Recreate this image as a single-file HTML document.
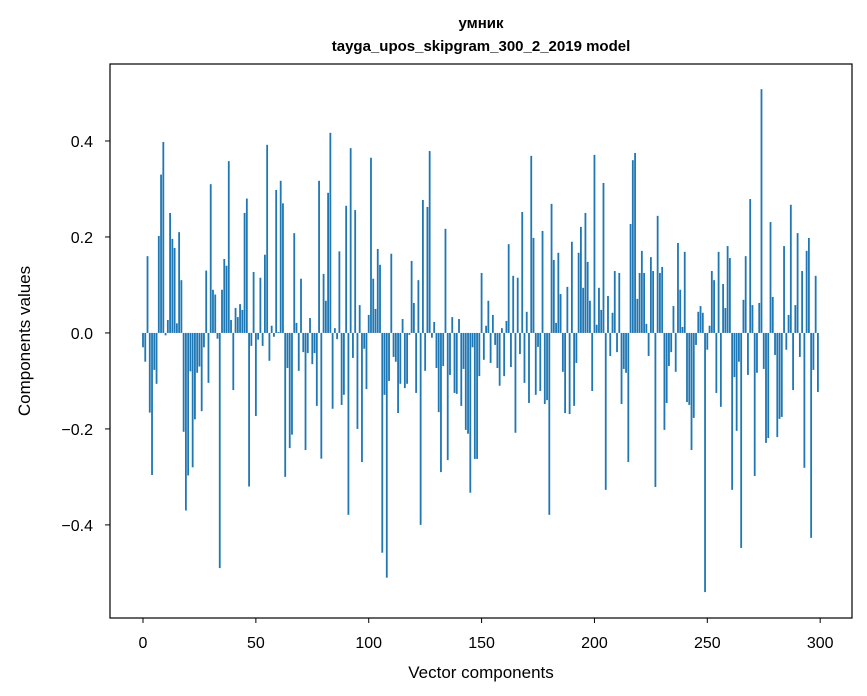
<!DOCTYPE html>
<html><head><meta charset="utf-8">
<style>
html,body{margin:0;padding:0;background:#fff;}
svg{display:block;}
text{font-family:"Liberation Sans","DejaVu Sans",sans-serif;fill:#000;}
</style></head>
<body>
<svg id="chart" width="867" height="696" viewBox="0 0 867 696">
<text x="481" y="28" text-anchor="middle" font-size="15" font-weight="bold">умник</text>
<text x="481" y="51" text-anchor="middle" font-size="15" font-weight="bold">tayga_upos_skipgram_300_2_2019 model</text>
<g id="bars"></g>
<g id="axes"></g>
<text x="481" y="678" text-anchor="middle" font-size="17">Vector components</text>
<text transform="translate(30,341) rotate(-90)" text-anchor="middle" font-size="17">Components values</text>
</svg>
<script>
const xTicks = [0,50,100,150,200,250,300];
const yTicks = [-0.4,-0.2,0,0.2,0.4];
const yTickLabels = ["\u22120.4","\u22120.2","0.0","0.2","0.4"];
const values = [
-0.03,-0.06,0.16,-0.166,-0.296,-0.077,-0.106,0.202,0.33,0.398,
-0.005,0.027,0.25,0.196,0.177,0.02,0.21,0.11,-0.206,-0.37,
-0.297,-0.08,-0.28,-0.18,-0.083,-0.07,-0.163,-0.03,0.13,-0.104,
0.31,0.09,0.08,-0.012,-0.49,0.09,0.154,0.14,0.358,0.027,
-0.119,0.052,0.033,0.06,0.048,0.25,0.28,-0.32,-0.027,0.127,
-0.173,-0.014,0.115,-0.027,0.163,0.392,-0.058,0.015,-0.008,0.298,
0.002,0.317,0.27,-0.30,-0.073,-0.24,-0.212,0.208,0.021,-0.079,
0.113,-0.04,-0.244,-0.042,0.031,-0.065,-0.042,-0.152,0.317,-0.262,
0.123,0.067,0.292,0.417,-0.158,0.01,-0.013,0.17,-0.15,-0.129,
0.265,-0.379,0.385,-0.052,0.256,-0.2,0.058,-0.269,-0.033,-0.117,
0.0375,0.365,0.113,0.05,0.175,0.142,-0.458,-0.129,-0.51,-0.1,
0.165,-0.05,-0.06,-0.167,-0.106,0.029,-0.115,-0.106,-0.004,0.15,
0.0625,-0.125,0.11,-0.4,0.277,-0.079,0.2625,0.379,-0.01,0.023,
-0.073,-0.165,-0.29,-0.069,0.217,-0.265,-0.0875,0.033,-0.125,-0.127,
0.029,-0.152,-0.075,-0.202,-0.21,-0.333,-0.03,-0.2625,-0.2625,-0.09,
0.125,-0.056,0.015,0.067,-0.0625,0.0375,-0.025,-0.073,-0.11,0.01,
-0.09,0.025,0.185,-0.071,0.119,-0.208,0.115,-0.044,0.252,-0.104,
0.044,-0.146,0.369,0.198,-0.129,-0.029,-0.121,0.2125,-0.148,-0.14,
-0.379,0.269,0.152,0.021,0.167,0.081,-0.081,-0.167,0.096,-0.169,
0.19,-0.152,-0.0625,0.167,0.221,0.094,0.25,0.148,0.067,-0.121,
0.371,0.017,0.094,0.048,0.3125,-0.327,0.077,-0.048,0.042,0.129,
-0.04,0.125,-0.148,-0.075,-0.083,-0.269,0.227,0.36,0.375,0.071,
0.125,0.171,0.125,0.019,-0.048,0.158,0.129,-0.321,0.244,0.125,
0.1375,-0.202,-0.146,-0.069,-0.04,0.056,-0.081,0.1875,0.09,0.0125,
0.169,-0.144,-0.15,-0.244,-0.177,-0.025,0.044,0.056,0.042,-0.54,
-0.035,0.015,0.129,0.11,-0.125,0.169,-0.154,0.102,0.052,0.181,
0.156,-0.327,-0.092,-0.204,-0.06,-0.448,0.069,0.16,-0.0875,0.279,
0.058,-0.298,-0.083,0.0625,0.508,-0.075,-0.229,-0.219,0.231,0.075,
-0.046,-0.217,-0.179,-0.175,0.181,-0.035,0.0375,0.267,-0.119,0.058,
0.208,-0.05,0.129,-0.281,0.171,0.198,-0.427,-0.077,0.119,-0.123
];
const NS = "http://www.w3.org/2000/svg";
const L = 110, R = 852, T = 64, B = 618;
const xMin = -14.62, xMax = 314.1, yMin = -0.594, yMax = 0.5604;
function xs(v){ return L + (v - xMin) / (xMax - xMin) * (R - L); }
function ys(v){ return T + (yMax - v) / (yMax - yMin) * (B - T); }
const barsG = document.getElementById('bars');
values.forEach(function(v, i){
  const r = document.createElementNS(NS, 'rect');
  
  
  const x0 = xs(i - 0.4), x1 = xs(i + 0.4);
  const y0 = ys(Math.max(v, 0)), y1 = ys(Math.min(v, 0));
  r.setAttribute('x', x0);
  r.setAttribute('width', x1 - x0);
  r.setAttribute('y', y0);
  r.setAttribute('height', Math.max(y1 - y0, 0.01));
  r.setAttribute('fill', '#1f77b4');
  barsG.appendChild(r);
});
const axesG = document.getElementById('axes');
const frame = document.createElementNS(NS, 'rect');


frame.setAttribute('x', L); frame.setAttribute('y', T);
frame.setAttribute('width', R - L); frame.setAttribute('height', B - T);
frame.setAttribute('fill', 'none'); frame.setAttribute('stroke', '#000'); frame.setAttribute('stroke-width', '1.2');
axesG.appendChild(frame);
xTicks.forEach(function(t){
  const ln = document.createElementNS(NS, 'line');
  
  
  ln.setAttribute('x1', xs(t)); ln.setAttribute('x2', xs(t));
  ln.setAttribute('y1', B); ln.setAttribute('y2', B + 5);
  ln.setAttribute('stroke', '#000'); ln.setAttribute('stroke-width', '1');
  axesG.appendChild(ln);
  const tx = document.createElementNS(NS, 'text');
  
  
  tx.setAttribute('x', xs(t)); tx.setAttribute('y', B + 30);
  tx.setAttribute('text-anchor', 'middle'); tx.setAttribute('font-size', '16');
  tx.textContent = String(t);
  axesG.appendChild(tx);
});
yTicks.forEach(function(t, k){
  const ln = document.createElementNS(NS, 'line');
  
  
  ln.setAttribute('x1', L - 5); ln.setAttribute('x2', L);
  ln.setAttribute('y1', ys(t)); ln.setAttribute('y2', ys(t));
  ln.setAttribute('stroke', '#000'); ln.setAttribute('stroke-width', '1');
  axesG.appendChild(ln);
  const tx = document.createElementNS(NS, 'text');
  
  
  tx.setAttribute('x', L - 17); tx.setAttribute('y', ys(t) + 6);
  tx.setAttribute('text-anchor', 'end'); tx.setAttribute('font-size', '16');
  tx.textContent = yTickLabels[k];
  axesG.appendChild(tx);
});
</script>
</body></html>
